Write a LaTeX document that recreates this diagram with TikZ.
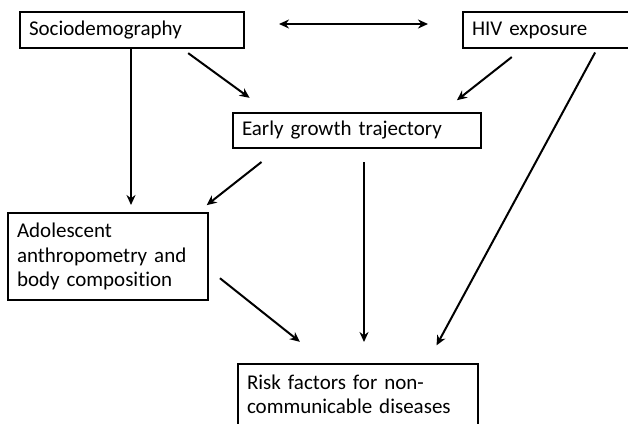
\documentclass[tikz,border=0pt]{standalone}
\usepackage{fontspec}
\setmainfont[Ligatures={NoCommon}]{Carlito}
\usetikzlibrary{arrows.meta,positioning,calc}

\begin{document}
\begin{tikzpicture}[x=1pt, y=-1pt,
    box/.style={rectangle, draw=black, line width=2pt, anchor=north west, align=left,
        inner xsep=9pt, inner ysep=0pt, font=\fontsize{21}{24.5}\selectfont},
    arrow/.style={-{Stealth[length=10pt,width=9pt]}, line width=2pt}
]

\useasboundingbox (0,0) rectangle (628,423);
\clip (0,0) rectangle (628,423);

% Top row
\node[box, text width=206pt, minimum height=36pt] (socio) at (19,11) {Sociodemography};
\node[box, text width=148pt, minimum height=36pt] (hiv) at (462,11) {HIV exposure};

% Middle
\node[box, text width=230pt, minimum height=35pt] (early) at (232,112) {Early growth trajectory};

\node[box, text width=182pt, minimum height=87pt] (adol) at (7,212) {
    Adolescent\\
    anthropometry and\\
    body composition
};

% Outcome
\node[box, text width=222pt, minimum height=61pt] (risk) at (237,363) {
    Risk factors for non-\\
    communicable diseases
};

% Arrows
\draw[{Stealth[length=10pt,width=9pt]}-{Stealth[length=10pt,width=9pt]}, line width=2pt,
    shorten <=34pt, shorten >=34pt] ([yshift=6pt]socio.east) -- ([yshift=6pt]socio.east -| hiv.west);

\draw[arrow, shorten <=7pt, shorten >=24pt] ([xshift=-62.5pt]socio.south east) -- ([xshift=37pt]early.north west);
\draw[arrow, shorten <=13pt, shorten >=19pt] ([xshift=60pt]hiv.south west) -- ([xshift=-40pt]early.north east);
\draw[arrow, shorten <=4pt, shorten >=20pt] ([xshift=135pt]hiv.south west) -- ([xshift=190pt]risk.north west);

\draw[arrow, shorten >=7pt] ([xshift=112pt]socio.south west) -- ([xshift=124pt]adol.north west);
\draw[arrow, shorten <=21pt, shorten >=11pt] ([xshift=46pt]early.south west) -- ([xshift=191pt]adol.north west);
\draw[arrow, shorten <=13pt, shorten >=21pt] ([xshift=132pt]early.south west) -- ([xshift=127pt]risk.north west);
\draw[arrow, shorten <=14pt, shorten >=34pt] ([yshift=-13pt]adol.east) -- ([xshift=89.5pt]risk.north west);

\end{tikzpicture}
\end{document}
